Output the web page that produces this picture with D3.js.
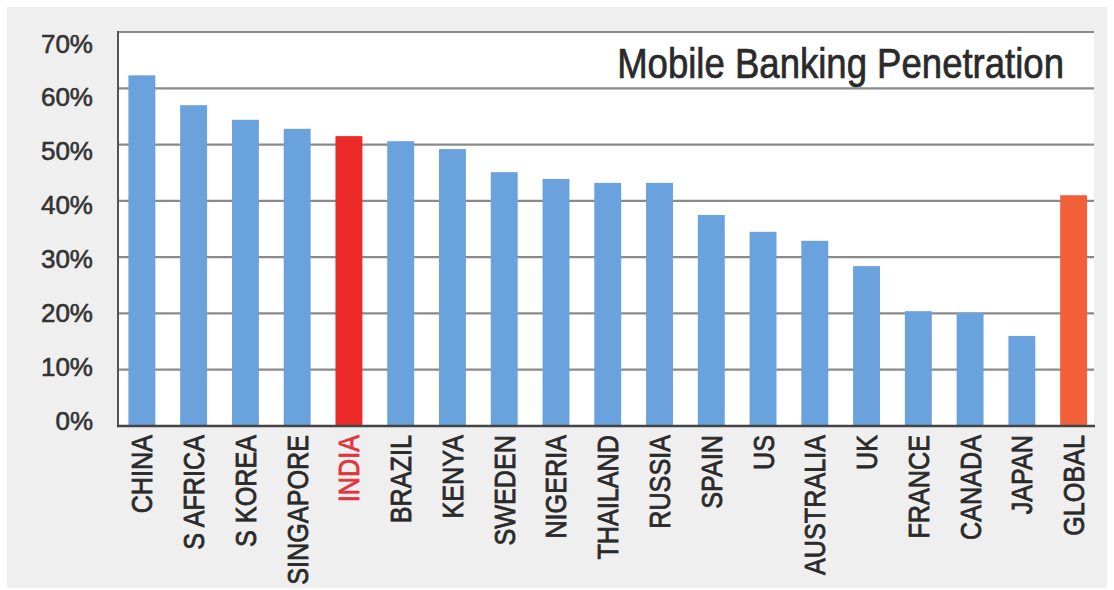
<!DOCTYPE html>
<html>
<head>
<meta charset="utf-8">
<script src="https://cdn.jsdelivr.net/npm/d3@7"></script>
<style>
    body { margin: 0; background: #fff; }
    svg { display: block; }
</style>
</head>
<body>
<div id="chart"></div>
<script>
// Chart data
const countries = ["CHINA", "S AFRICA", "S KOREA", "SINGAPORE", "INDIA", "BRAZIL", "KENYA",
    "SWEDEN", "NIGERIA", "THAILAND", "RUSSIA", "SPAIN", "US", "AUSTRALIA", "UK",
    "FRANCE", "CANADA", "JAPAN", "GLOBAL"];
const penetration = [62.3, 57.0, 54.4, 52.8, 51.5, 50.6, 49.2,
    45.1, 43.9, 43.2, 43.2, 37.5, 34.5, 32.9, 28.4,
    20.4, 20.1, 16.0, 41.0];
const yTicks = [0, 10, 20, 30, 40, 50, 60, 70];
const title = "Mobile Banking Penetration";

const width = 1114, height = 590;
const plot = { left: 118, right: 1094, top: 32, bottom: 426 };
const font = "'Liberation Sans', Arial, sans-serif";

const svg = d3.select("#chart")
    .append("svg")
    .attr("width", width)
    .attr("height", height);

// grey panel behind everything
svg.append("rect")
    .attr("x", 7).attr("y", 7)
    .attr("width", 1100).attr("height", 581)
    .attr("fill", "#efefef");

// white plot area
svg.append("rect")
    .attr("x", plot.left).attr("y", plot.top)
    .attr("width", plot.right - plot.left).attr("height", plot.bottom - plot.top)
    .attr("fill", "#fff");

// Scales
const x = d3.scaleBand()
    .domain(countries)
    .range([116, 1099.5])
    .paddingInner(0.48)
    .paddingOuter(0.24);

const y = d3.scaleLinear()
    .domain([0, 70])
    .range([plot.bottom, plot.top]);

// tick labels sit a little below their lines
const yLabel = d3.scaleLinear()
    .domain([0, 70])
    .range([420.5, 43.5]);

// Gridlines
svg.append("g")
    .selectAll("line")
    .data(yTicks.filter((d) => d > 0))
    .enter()
    .append("line")
    .attr("x1", plot.left)
    .attr("x2", plot.right)
    .attr("y1", (d) => y(d))
    .attr("y2", (d) => y(d))
    .attr("stroke", "#8a8a8a")
    .attr("stroke-width", 2.2);

// Title (condensed by scaling, no narrow font available)
svg.append("text")
    .attr("transform", "translate(1064, 78) scale(0.87, 1)")
    .attr("text-anchor", "end")
    .style("font-family", font)
    .style("font-size", "42px")
    .style("fill", "#2a2a2a")
    .style("stroke", "#2a2a2a")
    .style("stroke-width", 0.7)
    .text(title);

// Bars
const barColor = (d) => (d === "INDIA" ? "#ec2a2a" : d === "GLOBAL" ? "#f2603a" : "#69a2dc");

svg.append("g")
    .selectAll("rect")
    .data(countries)
    .enter()
    .append("rect")
    .attr("x", (d) => x(d))
    .attr("width", x.bandwidth())
    .attr("y", (d, i) => y(penetration[i]))
    .attr("height", (d, i) => y(0) - y(penetration[i]))
    .attr("fill", barColor);

// Axis lines
svg.append("line")
    .attr("x1", plot.left).attr("x2", plot.left)
    .attr("y1", plot.top - 1).attr("y2", plot.bottom + 1)
    .attr("stroke", "#555")
    .attr("stroke-width", 2);

svg.append("line")
    .attr("x1", plot.left - 1).attr("x2", plot.right + 1)
    .attr("y1", plot.bottom).attr("y2", plot.bottom)
    .attr("stroke", "#444")
    .attr("stroke-width", 2.5);

// Y tick labels
svg.append("g")
    .selectAll("text")
    .data(yTicks)
    .enter()
    .append("text")
    .attr("x", 93)
    .attr("y", (d) => yLabel(d))
    .attr("dy", "0.35em")
    .attr("text-anchor", "end")
    .style("font-family", font)
    .style("font-size", "26px")
    .style("fill", "#333")
    .style("stroke", "#333")
    .style("stroke-width", 0.6)
    .text((d) => d + "%");

// X labels, rotated and squeezed along the text direction
svg.append("g")
    .selectAll("text")
    .data(countries)
    .enter()
    .append("text")
    .attr("transform", (d) => `translate(${x(d) + x.bandwidth() / 2 + 10.5}, 435) rotate(-90) scale(0.84, 1)`)
    .attr("text-anchor", "end")
    .style("font-family", font)
    .style("font-size", "30px")
    .style("fill", (d) => (d === "INDIA" ? "#e2343c" : "#2a2a2a"))
    .style("stroke", (d) => (d === "INDIA" ? "#e2343c" : "#2a2a2a"))
    .style("stroke-width", 0.8)
    .text((d) => d);
</script>
</body>
</html>
